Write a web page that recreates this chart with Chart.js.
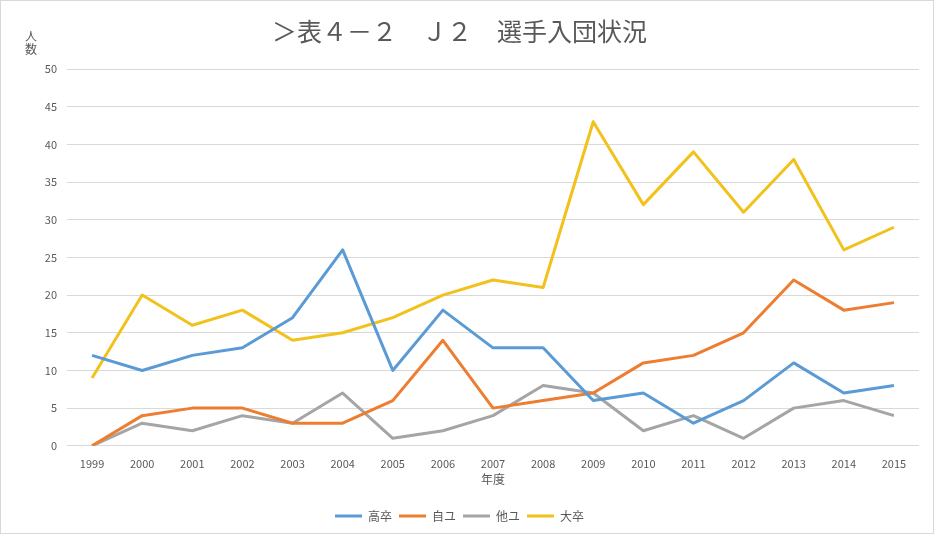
<!DOCTYPE html>
<html>
<head>
<meta charset="utf-8">
<script src="https://cdn.jsdelivr.net/npm/chart.js@4"></script>
<style>
  html, body { margin: 0; padding: 0; background: #fff; }
  #wrap { width: 934px; height: 536px; }
</style>
</head>
<body>
<div id="wrap"><canvas id="lineChart" width="934" height="536"></canvas></div>
<script>
// data
const years = ['1999', '2000', '2001', '2002', '2003', '2004', '2005', '2006', '2007',
               '2008', '2009', '2010', '2011', '2012', '2013', '2014', '2015'];
const koso = [12, 10, 12, 13, 17, 26, 10, 18, 13, 13, 6, 7, 3, 6, 11, 7, 8];
const jiyu = [0, 4, 5, 5, 3, 3, 6, 14, 5, 6, 7, 11, 12, 15, 22, 18, 19];
const tayu = [0, 3, 2, 4, 3, 7, 1, 2, 4, 8, 7, 2, 4, 1, 5, 6, 4];
const daiso = [9, 20, 16, 18, 14, 15, 17, 20, 22, 21, 43, 32, 39, 31, 38, 26, 29];

const textColor = '#595959';
const gridColor = '#D9D9D9';
const font = '"Noto Sans CJK JP", "Noto Sans", sans-serif';

// y axis title (stacked) and outer frame
const extras = {
    id: 'extras',
    afterDraw(chart) {
        const ctx = chart.ctx;
        ctx.save();
        ctx.fillStyle = textColor;
        ctx.font = '12px ' + font;
        ctx.textAlign = 'center';
        ctx.textBaseline = 'middle';
        ctx.fillText('人', 31, 36);
        ctx.fillText('数', 31, 49);
        ctx.strokeStyle = gridColor;
        ctx.lineWidth = 1;
        ctx.strokeRect(0.5, 0.5, 933, 533);
        ctx.restore();
    }
};

function line(label, data, color) {
    return {
        label: label,
        data: data,
        borderColor: color,
        backgroundColor: color,
        borderWidth: 3,
        pointRadius: 0,
        pointStyle: 'line',
        tension: 0,
        fill: false,
        borderJoinStyle: 'round'
    };
}

const ctx = document.getElementById('lineChart').getContext('2d');
new Chart(ctx, {
    type: 'line',
    data: {
        labels: years,
        datasets: [
            line('高卒', koso, '#5B9BD5'),
            line('自ユ', jiyu, '#ED7D31'),
            line('他ユ', tayu, '#A5A5A5'),
            line('大卒', daiso, '#F2C11C')
        ]
    },
    options: {
        responsive: false,
        animation: false,
        layout: { padding: { left: 0, right: 15, top: 0, bottom: 4 } },
        plugins: {
            title: {
                display: true,
                text: '＞表４－２　Ｊ２　選手入団状況',
                color: textColor,
                font: { family: font, size: 25, weight: 'normal' },
                padding: { top: 16, bottom: 23 }
            },
            legend: {
                position: 'bottom',
                labels: {
                    color: textColor,
                    font: { family: font, size: 12 },
                    usePointStyle: true,
                    pointStyle: 'line',
                    pointStyleWidth: 27,
                    padding: 7
                }
            },
            tooltip: { enabled: false }
        },
        scales: {
            x: {
                offset: true,
                grid: { display: false },
                border: { display: false },
                ticks: { color: textColor, font: { family: font, size: 11 }, maxRotation: 0, padding: 3 },
                title: {
                    display: true,
                    text: '年度',
                    color: textColor,
                    font: { family: font, size: 12, lineHeight: 1 },
                    padding: { top: 0, bottom: 18 }
                }
            },
            y: {
                min: 0,
                max: 50,
                grid: { color: gridColor, drawTicks: false },
                border: { display: false },
                ticks: { stepSize: 5, color: textColor, font: { family: font, size: 11 }, padding: 10 },
                afterFit(scale) { scale.width = 67; }
            }
        }
    },
    plugins: [extras]
});
</script>
</body>
</html>
